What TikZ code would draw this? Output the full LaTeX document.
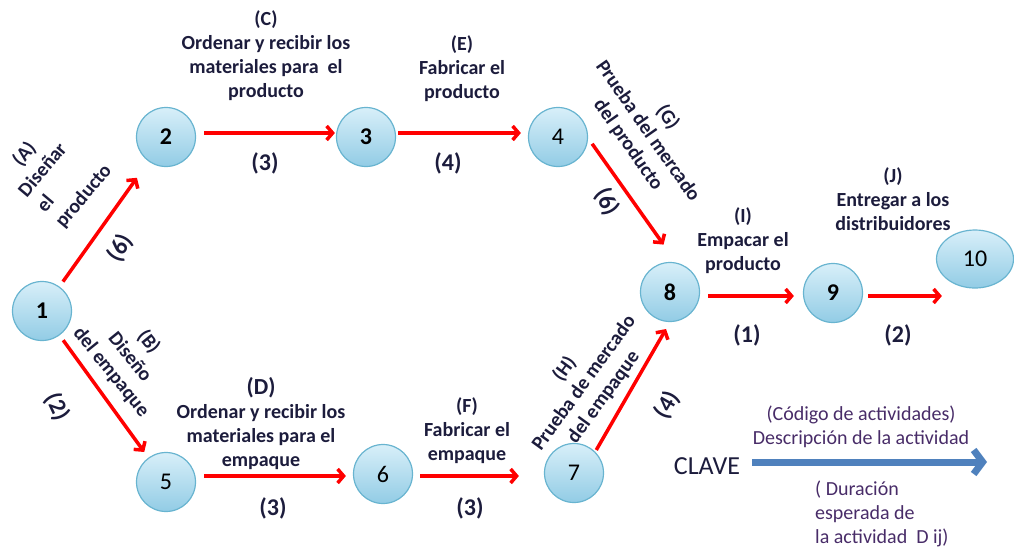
\documentclass[tikz,border=0pt]{standalone}
\usepackage{fontspec}
\setmainfont{Carlito}
\usetikzlibrary{arrows.meta,shapes.geometric}
\definecolor{lbltext}{RGB}{28,28,60}
\definecolor{keytext}{RGB}{72,44,104}
\definecolor{nodetop}{RGB}{216,239,249}
\definecolor{nodebot}{RGB}{146,204,229}
\definecolor{nodeedge}{RGB}{104,180,208}
\definecolor{keyblue}{RGB}{79,129,189}
\begin{document}
\begin{tikzpicture}[x=1pt,y=-1pt,
  evt/.style={circle, minimum size=59pt, inner sep=0pt, draw=nodeedge, line width=1.2pt,
    top color=nodetop, bottom color=nodebot, text=black, font=\fontsize{24}{28}\selectfont},
  evtb/.style={evt, font=\fontsize{24}{28}\selectfont\bfseries},
  act/.style={draw=red, line width=3.5pt, -{Straight Barb[length=6pt,width=14pt]}},
  lbl/.style={align=center, text=lbltext, inner sep=0pt, font=\fontsize{20}{24}\selectfont\bfseries},
  dur/.style={text=lbltext, inner sep=0pt, font=\fontsize{24}{28}\selectfont\bfseries},
  keylbl/.style={text=keytext, inner sep=0pt, font=\fontsize{20}{24}\selectfont}
]
\useasboundingbox (0,0) rectangle (1014,547);

% events
\node[evtb] (n1) at (42,311) {1};
\node[evtb] (n2) at (166,137) {2};
\node[evtb] (n3) at (366,137) {3};
\node[evt]  (n4) at (558,137) {4};
\node[evt]  (n5) at (166,482) {5};
\node[evt]  (n6) at (383,474) {6};
\node[evt]  (n7) at (574,473) {7};
\node[evtb] (n8) at (670,292) {8};
\node[evtb] (n9) at (833,293) {9};
\node[ellipse, minimum width=77pt, minimum height=58pt, inner sep=0pt, draw=nodeedge, line width=1.2pt,
  top color=nodetop, bottom color=nodebot, text=black, font=\fontsize{24}{28}\selectfont] (n10) at (975,259) {10};

% activities
\draw[act, shorten <=6pt, shorten >=20pt] (n1) -- (n2);
\draw[act, shorten <=6pt, shorten >=7pt] (n1) -- (n5);
\draw[act, shorten <=8pt, shorten >=1pt] ([yshift=4pt]n2.east) -- ([yshift=4pt]n3.west);
\draw[act, shorten <=2pt, shorten >=7pt] ([yshift=4pt]n3.east) -- ([yshift=4pt]n4.west);
\draw[act, shorten <=7pt, shorten >=22pt] (n4.-2) -- (n8.78);
\draw[act, shorten <=8pt, shorten >=7pt] ([yshift=6pt]n5.east) -- ([yshift=-2pt]n6.west);
\draw[act, shorten <=7pt, shorten >=25pt] ([yshift=-2pt]n6.east) -- ([yshift=-3pt]n7.west);
\draw[act, shorten <=2pt, shorten >=8pt] (n7.45) -- (n8.south);
\draw[act, shorten <=8pt, shorten >=9pt] ([yshift=-4pt]n8.east) -- ([yshift=-3pt]n9.west);
\draw[act, shorten <=5pt, shorten >=0pt] ([yshift=-3pt]n9.east) -- ([yshift=-37pt,xshift=6pt]n10.west);

% activity labels
\node[lbl] (lC) at (266,56) {(C)\\Ordenar y recibir los\\materiales para\ \ el\\producto};
\node[lbl] (lE) at (462,69) {(E)\\Fabricar el\\producto};
\node[lbl] (lI) at (743,241) {(I)\\Empacar el\\producto};
\node[lbl] (lJ) at (893,199) {(J)\\Entregar a los\\distribuidores};
\node[lbl] (lD) at (261,424) {{\fontsize{23}{24}\selectfont(D)}\\Ordenar y recibir los\\materiales para el\\empaque};
\node[lbl] (lF) at (467,431) {(F)\\Fabricar el\\empaque};
\node[lbl, align=left, rotate=50] (lA) at (56,173) {\hspace*{0.97em}(A)\\Diseñar\\el\\producto};
\node[lbl, rotate=-51] (lB) at (130,357) {(B)\\Diseño\\del empaque};
\node[lbl, rotate=-55] (lG) at (648,131) {(G)\\Prueba del mercado\\del producto};
\node[lbl, rotate=54] (lH) at (584,383) {(H)\\Prueba de mercado\\del empaque};

% durations
\node[dur] (dC) at (265,163) {(3)};
\node[dur] (dE) at (448,163) {(4)};
\node[dur] (dD) at (273,508) {(3)};
\node[dur] (dF) at (470,508) {(3)};
\node[dur] (dI) at (747,335) {(1)};
\node[dur] (dJ) at (898,335) {(2)};
\node[dur, rotate=60] (dA) at (120,248) {(6)};
\node[dur, rotate=-65] (dB) at (57,407) {(2)};
\node[dur, rotate=-60] (dG) at (607,202) {(6)};
\node[dur, rotate=60] (dH) at (667,405) {(4)};

% key
\node[text=lbltext, inner sep=0pt, font=\fontsize{26}{28}\selectfont] (clave) at (707,466) {CLAVE};
\coordinate (k1) at (752,462);
\coordinate (k2) at (987,462);
\draw[draw=keyblue, line width=7pt, -{Straight Barb[length=9pt,width=24pt]}] (k1) -- (k2);
\node[keylbl, align=center] (kd) at (861,427) {(Código de actividades)\\Descripción de la actividad};
\node[keylbl, align=left, anchor=north west] (kt) at (815,481) {( Duración\\esperada de\\la actividad\ \ D ij)};
\end{tikzpicture}
\end{document}
